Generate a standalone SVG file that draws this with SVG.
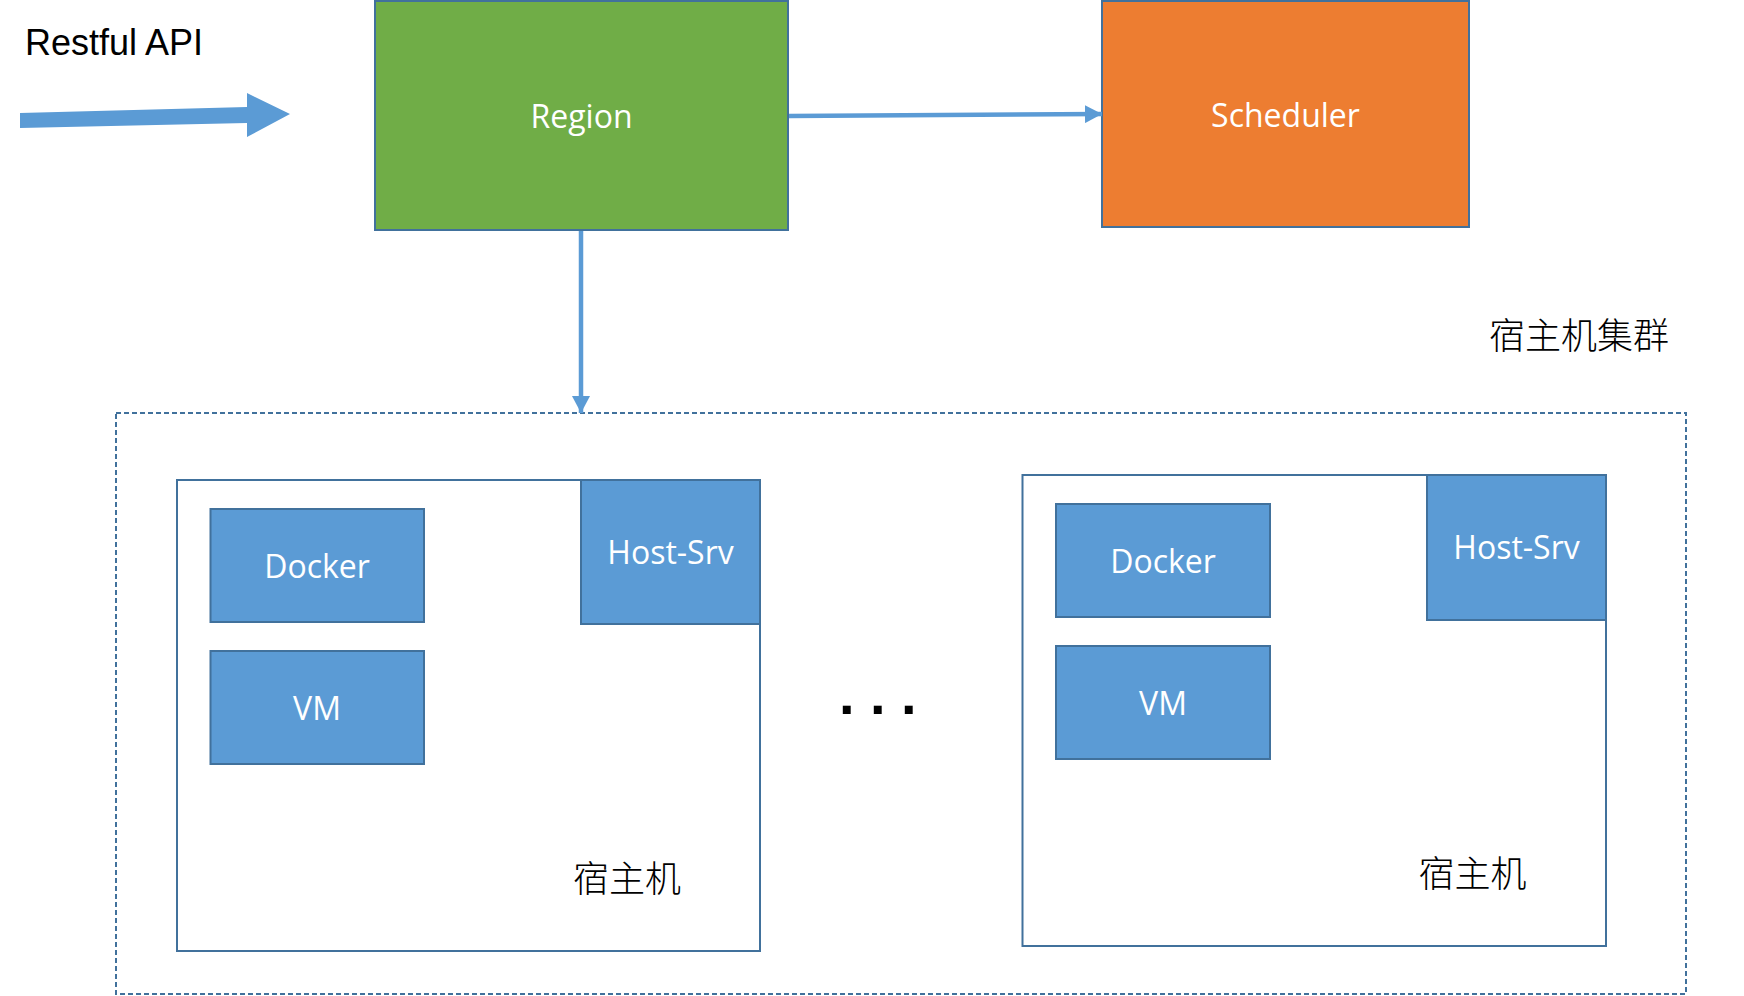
<svg xmlns="http://www.w3.org/2000/svg" width="1744" height="996" viewBox="0 0 1744 996">
  <style>
    .box { stroke: #41719C; stroke-width: 2; }
    .blue { fill: #5B9BD5; }
    .lbl { font-family: "Open Sans", "Noto Sans", sans-serif; font-size: 32px; fill: #FFFFFF; text-anchor: middle; }
    .cjk { font-family: "Noto Sans CJK SC", sans-serif; font-size: 36px; font-weight: 300; fill: #000000; text-anchor: middle; }
    .conn { stroke: #5B9BD5; stroke-width: 4.5; fill: none; }
  </style>
  <defs>
    <marker id="arrow" markerUnits="userSpaceOnUse" markerWidth="17" markerHeight="18" refX="17" refY="9" orient="auto">
      <path d="M0,0 L17,9 L0,18 Z" fill="#5B9BD5"/>
    </marker>
  </defs>
  <rect width="1744" height="996" fill="#FFFFFF"/>

  <g id="restful-api">
    <text x="25" y="55" font-family="Liberation Sans, Arial, sans-serif" font-size="36" fill="#000000">Restful API</text>
    <polygon points="20,113 247,107 247,93 290,114 247,137 247,123 20,128" fill="#5B9BD5"/>
  </g>

  <g id="region">
    <rect class="box" x="375" y="1" width="413" height="229" fill="#70AD47"/>
    <text class="lbl" x="581.5" y="128" font-size="33">Region</text>
  </g>

  <g id="scheduler">
    <rect class="box" x="1102" y="1" width="367" height="226" fill="#ED7D31"/>
    <text class="lbl" x="1285.5" y="127" font-size="33">Scheduler</text>
  </g>

  <g id="cluster">
    <rect x="116" y="413" width="1570" height="581" fill="none" stroke="#41719C" stroke-width="2" stroke-dasharray="5,3"/>
    <text class="cjk" x="1579" y="349">宿主机集群</text>
  </g>

  <g id="host1">
    <rect class="box" x="177" y="480" width="583" height="471" fill="#FFFFFF"/>
    <g id="host1-docker">
      <rect class="box blue" x="210.5" y="509" width="213.5" height="113"/>
      <text class="lbl" x="317" y="578">Docker</text>
    </g>
    <g id="host1-vm">
      <rect class="box blue" x="210.5" y="651" width="213.5" height="113"/>
      <text class="lbl" x="317" y="720">VM</text>
    </g>
    <g id="host1-hostsrv">
      <rect class="box blue" x="581" y="480" width="179" height="144"/>
      <text class="lbl" x="670.5" y="564">Host-Srv</text>
    </g>
    <text class="cjk" x="627" y="892">宿主机</text>
  </g>

  <g id="ellipsis">
    <text x="839" y="714" font-family="Liberation Sans, Arial, sans-serif" font-size="56" font-weight="bold" fill="#000000" letter-spacing="15.5">...</text>
  </g>

  <g id="host2">
    <rect class="box" x="1022.5" y="475" width="583.5" height="471" fill="#FFFFFF"/>
    <g id="host2-docker">
      <rect class="box blue" x="1056" y="504" width="214" height="113"/>
      <text class="lbl" x="1163" y="573">Docker</text>
    </g>
    <g id="host2-vm">
      <rect class="box blue" x="1056" y="646" width="214" height="113"/>
      <text class="lbl" x="1163" y="715">VM</text>
    </g>
    <g id="host2-hostsrv">
      <rect class="box blue" x="1427" y="475" width="179" height="145"/>
      <text class="lbl" x="1516.5" y="559">Host-Srv</text>
    </g>
    <text class="cjk" x="1472.5" y="887">宿主机</text>
  </g>

  <g id="connectors">
    <line class="conn" x1="789" y1="116" x2="1102" y2="114" marker-end="url(#arrow)"/>
    <line class="conn" x1="581" y1="231" x2="581" y2="413" marker-end="url(#arrow)"/>
  </g>
</svg>
